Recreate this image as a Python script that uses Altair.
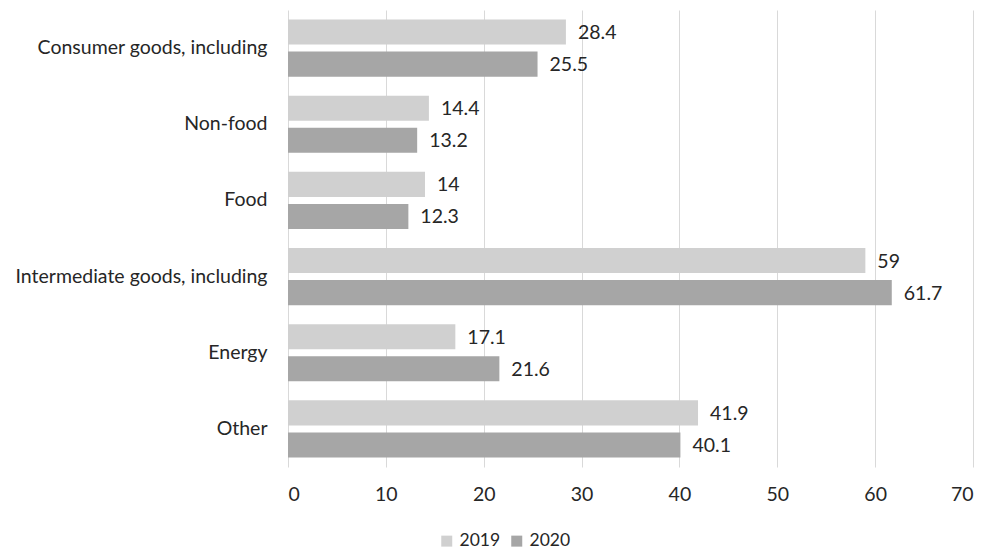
import altair as alt
import pandas as pd

categories = ["Consumer goods, including", "Non-food", "Food",
              "Intermediate goods, including", "Energy", "Other"]
v2019 = [28.4, 14.4, 14, 59, 17.1, 41.9]
v2020 = [25.5, 13.2, 12.3, 61.7, 21.6, 40.1]
years = ["2019", "2020"]
x_ticks = [0, 10, 20, 30, 40, 50, 60, 70]

rows = []
for c, a, b in zip(categories, v2019, v2020):
    rows.append({"cat": c, "year": "2019", "value": a, "label": f"{a:g}"})
    rows.append({"cat": c, "year": "2020", "value": b, "label": f"{b:g}"})
df = pd.DataFrame(rows)

FONT = "Lato"
FS = 19.5
TXT = "#262626"

y_enc = alt.Y("cat:N", sort=categories, title=None,
              scale=alt.Scale(paddingInner=0.25, paddingOuter=0.125),
              axis=alt.Axis(domain=False, ticks=False, labelPadding=21,
                            labelFontSize=FS, labelFont=FONT, labelColor=TXT,
                            labelLimit=400))
yoff = alt.YOffset("year:N", sort=years,
                   scale=alt.Scale(paddingInner=0.22, paddingOuter=0))

bars = alt.Chart(df).mark_bar().encode(
    x=alt.X("value:Q", title=None,
            scale=alt.Scale(domain=[0, 70], nice=False),
            axis=alt.Axis(values=x_ticks, domain=False, ticks=False,
                          grid=True, gridColor="#d9d9d9", gridWidth=1,
                          labelPadding=18, labelFontSize=FS, labelFont=FONT,
                          labelColor=TXT)),
    y=y_enc,
    yOffset=yoff,
    color=alt.Color("year:N", sort=years,
                    scale=alt.Scale(domain=years, range=["#d0d0d0", "#a6a6a6"]),
                    legend=alt.Legend(title=None, orient="none", direction="horizontal",
                                      legendX=150, legendY=522,
                                      symbolType="square", symbolSize=121,
                                      symbolStrokeWidth=0,
                                      labelFontSize=17.5, labelFont=FONT,
                                      labelColor=TXT, columnPadding=7,
                                      labelOffset=4)),
)

labels = alt.Chart(df).mark_text(align="left", baseline="middle", dx=12, dy=1,
                                 fontSize=FS, font=FONT, color=TXT).encode(
    x="value:Q",
    y=alt.Y("cat:N", sort=categories),
    yOffset=yoff,
    text="label:N",
)

chart = (bars + labels).properties(
    width=685, height=457,
    autosize=alt.AutoSizeParams(type="none"),
    padding={"left": 288, "top": 10, "right": 26, "bottom": 83},
).configure_view(stroke=None)

chart.save("out.html", embed_options={"renderer": "svg", "actions": False})
